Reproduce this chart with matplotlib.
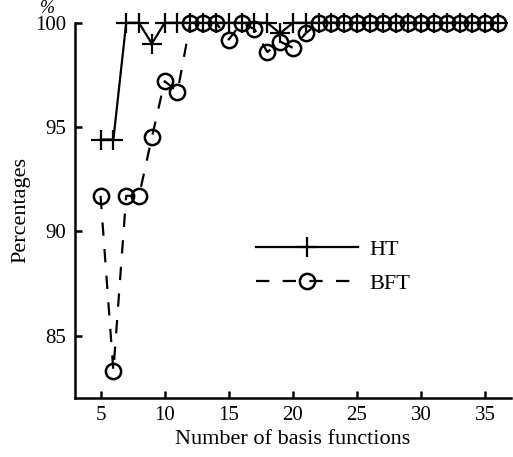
import numpy as np
import matplotlib
matplotlib.use('Agg')
import matplotlib.pyplot as plt

plt.rcParams['font.family'] = ['Liberation Serif', 'DejaVu Serif']

n_basis = list(range(5, 37))
ht = [94.4, 94.4, 100, 100, 99.0, 100, 100, 100, 100, 100, 100, 100, 100,
      100, 99.5, 100] + [100] * 16
bft = [91.7, 83.3, 91.7, 91.7, 94.5, 97.2, 96.7, 100, 100, 100, 99.2, 100,
       99.7, 98.6, 99.1, 98.8, 99.5] + [100] * 15

fig = plt.figure(figsize=(5.13, 4.57), dpi=100)
ax = fig.add_axes([0.146, 0.129, 0.85, 0.821])

ax.plot(n_basis, ht, color='black', linewidth=1.6, marker='+',
        markersize=15, markeredgewidth=1.6, label='HT', clip_on=False)
ax.plot(n_basis, bft, color='black', linewidth=1.6, linestyle=(0, (6, 6)),
        marker='o', markersize=11, markerfacecolor='none',
        markeredgewidth=1.8, label='BFT', clip_on=False)

ax.set_xlim(3, 37)
ax.set_ylim(82, 100)
ax.set_xticks([5, 10, 15, 20, 25, 30, 35])
ax.set_yticks([85, 90, 95, 100])

for side in ['top', 'right']:
    ax.spines[side].set_visible(False)
for side in ['left', 'bottom']:
    ax.spines[side].set_linewidth(1.8)
ax.tick_params(direction='in', length=5, width=1.8, labelsize=15, pad=6)

ax.set_xlabel('Number of basis functions', fontsize=16, labelpad=3)
ax.set_ylabel('Percentages', fontsize=16, labelpad=4)
ax.text(-0.064, 1.039, '%', transform=ax.transAxes, fontsize=13,
        style='italic', ha='center', va='center')

ax.legend(loc='center left', bbox_to_anchor=(0.37, 0.35), frameon=False,
          fontsize=16, handlelength=4.6, labelspacing=0.6, handletextpad=0.5)

fig.savefig('out.png', dpi=100)
